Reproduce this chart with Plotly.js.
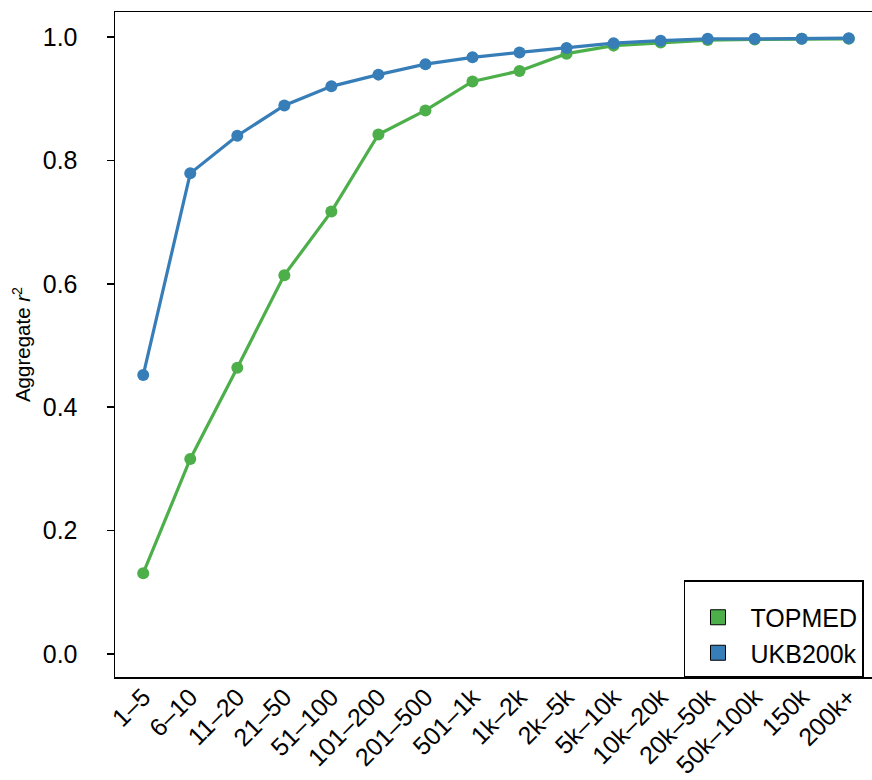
<!DOCTYPE html>
<html>
<head>
<meta charset="utf-8">
<script src="https://cdn.plot.ly/plotly-3.0.1.min.js"></script>
<style>html,body{margin:0;padding:0;overflow:hidden;background:#fff;}</style>
</head>
<body>
<div id="chart"></div>
<script>
const categories = ["1\u20135","6\u201310","11\u201320","21\u201350","51\u2013100","101\u2013200","201\u2013500","501\u20131k","1k\u20132k","2k\u20135k","5k\u201310k","10k\u201320k","20k\u201350k","50k\u2013100k","150k","200k+"];
const topmed = [0.131,0.316,0.464,0.614,0.717,0.842,0.881,0.928,0.945,0.973,0.986,0.991,0.995,0.996,0.997,0.997];
const ukb200k = [0.452,0.779,0.840,0.889,0.920,0.939,0.956,0.967,0.975,0.982,0.990,0.994,0.997,0.997,0.997,0.998];
const seriesNames = ["TOPMED","UKB200k"];
const colors = ["#4DAF4A","#377EB8"];

const idx = categories.map((c,i)=>i);
const traces = [];
[topmed, ukb200k].forEach((vals,k)=>{
  traces.push({x: idx, y: vals, type:'scatter', mode:'lines+markers',
    line:{color:colors[k], width:3.2}, marker:{color:colors[k], size:12},
    showlegend:false, hoverinfo:'skip'});
});
seriesNames.forEach((n,k)=>{
  traces.push({x:[null], y:[null], type:'scatter', mode:'markers', name:n,
    legendgroup:'g'+k,
    marker:{symbol:'square', color:colors[k], size:15, line:{color:'#000', width:1}}});
});

const layout = {
  width: 880, height: 780,
  margin:{l:115, r:3, t:12, b:103},
  paper_bgcolor:'#fff', plot_bgcolor:'#fff',
  font:{family:'Liberation Sans, Arial, sans-serif', color:'#000'},
  xaxis:{range:[-0.6,15.6], tickmode:'array', tickvals:idx, ticktext:categories,
    tickangle:-45, ticks:'', showgrid:false, zeroline:false,
    showline:true, linecolor:'#000', linewidth:1.5, mirror:true,
    ticklabelstandoff:-6,
    tickfont:{size:25}},
  yaxis:{range:[-0.0373,1.0405], tickvals:[0,0.2,0.4,0.6,0.8,1.0],
    ticktext:['0.0','0.2','0.4','0.6','0.8','1.0'],
    ticks:'outside', ticklen:7, tickwidth:1.5, tickcolor:'#000',
    ticklabelstandoff:24,
    showgrid:false, zeroline:false, showline:true, linecolor:'#000', linewidth:1.5, mirror:true,
    tickfont:{size:25},
    title:{text:'Aggregate <i>r</i><sup>2</sup>', font:{size:20.5}, standoff:6}},
  legend:{x:0.7467, y:0, xanchor:'left', yanchor:'bottom',
    bgcolor:'#fff', bordercolor:'#000', borderwidth:1.5,
    font:{size:25}, traceorder:'grouped', tracegroupgap:0,
    itemwidth:55,
    title:{text:' ', font:{size:10}},
    itemclick:false}
};
Plotly.newPlot('chart', traces, layout, {displayModeBar:false, staticPlot:true});
</script>
</body>
</html>
